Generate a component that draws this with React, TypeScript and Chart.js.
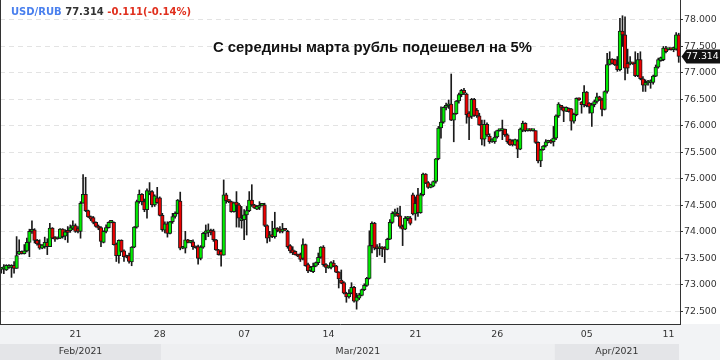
import React, { useEffect, useRef } from "react";
import { Chart, registerables } from "chart.js";

Chart.register(...registerables);

const OPEN = [
  73.29, 73.30, 73.28, 73.33, 73.33, 73.37, 73.31, 73.58, 73.63, 73.59,
  73.64, 73.80, 74.01, 74.04, 73.84, 73.77, 73.69, 73.72, 73.80, 73.72,
  74.07, 73.90, 73.87, 73.88, 74.05, 73.92, 74.02, 74.02, 74.07, 74.12,
  74.06, 74.01, 74.54, 74.71, 74.40, 74.29, 74.27, 74.18, 74.10, 74.08,
  73.80, 74.01, 74.08, 74.18, 74.18, 73.77, 73.55, 73.84, 73.64, 73.55,
  73.55, 73.43, 73.71, 74.09, 74.57, 74.71, 74.57, 74.42, 74.73, 74.76,
  74.51, 74.64, 74.64, 74.31, 74.03, 74.15, 73.97, 74.19, 74.29, 74.35,
  74.58, 73.69, 73.69, 73.85, 73.80, 73.81, 73.72, 73.72, 73.50, 73.71,
  73.97, 73.99, 74.02, 74.02, 73.85, 73.66, 73.63, 73.56, 74.70, 74.60,
  74.57, 74.38, 74.56, 74.51, 74.21, 74.23, 74.32, 74.40, 74.60, 74.51,
  74.43, 74.46, 74.50, 74.51, 74.12, 73.90, 73.93, 73.91, 74.07, 74.05,
  74.01, 74.04, 74.01, 73.74, 73.66, 73.63, 73.57, 73.57, 73.50, 73.76,
  73.38, 73.27, 73.25, 73.35, 73.42, 73.52, 73.71, 73.38, 73.32, 73.33,
  73.41, 73.36, 73.24, 73.09, 73.04, 72.84, 72.77, 72.84, 72.95, 72.69,
  72.75, 72.80, 72.91, 72.99, 73.12, 73.74, 74.16, 73.69, 73.68, 73.69,
  73.69, 73.67, 73.86, 74.18, 74.34, 74.35, 74.30, 74.10, 74.05, 74.25,
  74.26, 74.70, 74.34, 74.70, 74.36, 74.70, 75.09, 74.93, 74.84, 74.86,
  74.95, 75.38, 75.96, 76.07, 76.35, 76.38, 76.41, 76.11, 76.23, 76.47,
  76.59, 76.67, 76.60, 76.24, 76.18, 76.50, 76.30, 76.19, 76.03, 75.75,
  76.03, 75.81, 75.71, 75.70, 75.79, 75.91, 75.91, 75.94, 75.83, 75.74,
  75.72, 75.64, 75.72, 75.56, 75.92, 76.05, 75.91, 75.92, 75.91, 75.91,
  75.69, 75.34, 75.55, 75.62, 75.69, 75.72, 75.70, 75.77, 76.19, 76.37,
  76.35, 76.28, 76.33, 76.32, 76.09, 76.21, 76.52, 76.45, 76.40, 76.64,
  76.43, 76.24, 76.40, 76.46, 76.55, 76.49, 76.31, 76.65, 77.16, 77.26,
  77.25, 77.15, 77.06, 77.79, 77.72, 77.18, 77.17, 77.18, 77.18, 76.95,
  77.25, 76.89, 76.77, 76.81, 76.82, 76.82, 76.94, 77.11, 77.23, 77.25,
  77.47, 77.44, 77.45, 77.44, 77.45, 77.72,
];

const HIGH = [
  73.31, 73.38, 73.38, 73.38, 73.38, 73.44, 73.91, 73.85, 73.64, 73.76,
  73.88, 74.05, 74.21, 74.06, 73.86, 73.85, 73.76, 73.90, 73.87, 74.16,
  74.08, 73.91, 73.90, 74.06, 74.06, 74.04, 74.10, 74.13, 74.21, 74.15,
  74.10, 74.57, 75.08, 75.03, 74.41, 74.30, 74.29, 74.19, 74.13, 74.10,
  74.02, 74.13, 74.19, 74.20, 74.19, 73.79, 73.85, 73.85, 73.66, 73.56,
  73.60, 73.72, 74.10, 74.60, 74.79, 74.72, 74.62, 74.81, 74.93, 74.78,
  74.70, 74.84, 74.66, 74.35, 74.19, 74.19, 74.20, 74.35, 74.38, 74.61,
  74.75, 73.72, 74.01, 73.86, 73.82, 73.85, 73.73, 73.75, 73.74, 73.99,
  74.13, 74.15, 74.05, 74.05, 73.86, 73.67, 73.66, 74.98, 74.73, 74.61,
  74.58, 74.56, 74.76, 74.54, 74.48, 74.42, 74.48, 74.76, 74.89, 74.52,
  74.50, 74.57, 74.52, 74.54, 74.13, 74.01, 74.20, 74.37, 74.08, 74.10,
  74.16, 74.05, 74.03, 73.76, 73.72, 73.64, 73.58, 73.60, 73.87, 73.77,
  73.41, 73.35, 73.41, 73.43, 73.60, 73.72, 73.74, 73.40, 73.36, 73.44,
  73.46, 73.37, 73.25, 73.28, 73.06, 72.86, 72.91, 73.04, 72.97, 72.84,
  72.84, 72.92, 73.02, 73.14, 74.02, 74.19, 74.18, 73.76, 73.78, 73.72,
  73.72, 73.88, 74.23, 74.38, 74.43, 74.45, 74.48, 74.13, 74.29, 74.29,
  74.29, 74.73, 74.66, 74.82, 74.73, 75.11, 75.10, 74.95, 74.90, 74.96,
  75.39, 75.99, 76.36, 76.36, 76.43, 76.49, 76.98, 76.24, 76.48, 76.62,
  76.69, 76.71, 76.62, 76.27, 76.52, 76.52, 76.33, 76.24, 76.11, 76.11,
  76.06, 75.85, 75.76, 75.89, 75.92, 75.93, 76.11, 75.94, 75.85, 75.75,
  75.74, 75.75, 75.74, 75.96, 76.09, 76.06, 75.93, 75.93, 75.93, 75.91,
  75.70, 75.56, 75.63, 75.74, 75.73, 75.74, 75.99, 76.21, 76.44, 76.38,
  76.36, 76.36, 76.34, 76.33, 76.24, 76.53, 76.53, 76.46, 76.76, 76.65,
  76.44, 76.43, 76.49, 76.62, 76.56, 76.52, 76.66, 77.37, 77.40, 77.27,
  77.26, 77.31, 78.03, 78.08, 78.06, 77.45, 77.31, 77.19, 77.40, 77.37,
  77.40, 76.93, 76.87, 76.86, 76.87, 76.96, 77.15, 77.28, 77.30, 77.50,
  77.50, 77.46, 77.46, 77.49, 77.76, 77.75,
];

const LOW = [
  73.22, 73.21, 73.27, 73.31, 73.14, 73.22, 73.31, 73.57, 73.58, 73.58,
  73.62, 73.53, 73.97, 73.79, 73.75, 73.67, 73.68, 73.69, 73.57, 73.72,
  73.87, 73.82, 73.86, 73.87, 73.88, 73.85, 73.80, 73.99, 74.04, 73.99,
  73.98, 73.88, 74.54, 74.38, 74.27, 74.21, 74.15, 74.09, 74.04, 73.72,
  73.79, 73.98, 74.07, 74.17, 73.75, 73.44, 73.41, 73.62, 73.44, 73.51,
  73.41, 73.36, 73.70, 74.07, 74.54, 74.51, 74.38, 74.26, 74.70, 74.47,
  74.48, 74.54, 74.30, 74.01, 73.98, 73.90, 73.96, 74.16, 74.26, 74.34,
  73.66, 73.68, 73.60, 73.79, 73.79, 73.67, 73.69, 73.39, 73.47, 73.69,
  73.85, 73.91, 73.94, 73.82, 73.65, 73.56, 73.35, 73.56, 74.54, 74.55,
  74.37, 74.37, 74.09, 74.09, 74.07, 73.85, 73.94, 74.38, 74.48, 74.44,
  74.42, 74.42, 74.49, 74.10, 73.79, 73.82, 73.89, 73.88, 74.00, 73.98,
  73.98, 74.02, 73.69, 73.60, 73.57, 73.56, 73.53, 73.44, 73.47, 73.35,
  73.23, 73.25, 73.23, 73.34, 73.38, 73.50, 73.35, 73.23, 73.31, 73.30,
  73.34, 73.23, 72.94, 73.02, 72.83, 72.67, 72.75, 72.83, 72.67, 72.54,
  72.72, 72.79, 72.89, 72.97, 73.11, 73.60, 73.66, 73.53, 73.56, 73.53,
  73.42, 73.66, 73.85, 74.16, 74.29, 74.29, 74.07, 73.74, 74.04, 74.21,
  74.13, 74.32, 74.22, 74.29, 74.35, 74.68, 74.91, 74.82, 74.83, 74.85,
  74.92, 75.36, 75.77, 76.05, 76.30, 76.33, 76.10, 75.70, 76.22, 76.43,
  76.55, 76.59, 76.05, 75.74, 76.14, 76.18, 76.16, 76.01, 75.64, 75.62,
  75.80, 75.67, 75.69, 75.67, 75.77, 75.90, 75.74, 75.80, 75.67, 75.63,
  75.62, 75.63, 75.40, 75.55, 75.89, 75.89, 75.90, 75.90, 75.90, 75.67,
  75.30, 75.23, 75.54, 75.60, 75.68, 75.67, 75.62, 75.74, 76.16, 76.30,
  76.08, 76.27, 76.26, 75.92, 76.05, 76.19, 76.48, 76.24, 76.36, 76.36,
  76.24, 75.99, 76.36, 76.43, 76.48, 76.19, 76.30, 76.62, 77.15, 77.17,
  77.14, 77.03, 77.04, 77.50, 76.87, 76.99, 77.15, 77.16, 76.93, 76.93,
  76.87, 76.65, 76.65, 76.77, 76.71, 76.79, 76.93, 77.09, 77.22, 77.23,
  77.38, 77.43, 77.43, 77.40, 77.43, 77.20,
];

const CLOSE = [
  73.30, 73.31, 73.37, 73.37, 73.36, 73.31, 73.55, 73.63, 73.59, 73.64,
  73.80, 74.01, 74.04, 73.84, 73.77, 73.69, 73.75, 73.80, 73.72, 74.07,
  73.88, 73.86, 73.89, 74.05, 73.91, 74.00, 73.99, 74.08, 74.12, 74.01,
  74.01, 74.54, 74.71, 74.40, 74.28, 74.24, 74.18, 74.10, 74.07, 73.82,
  74.01, 74.08, 74.18, 74.19, 73.76, 73.55, 73.84, 73.63, 73.53, 73.52,
  73.44, 73.71, 74.09, 74.57, 74.71, 74.57, 74.42, 74.78, 74.76, 74.51,
  74.68, 74.55, 74.31, 74.04, 74.15, 73.97, 74.19, 74.29, 74.35, 74.60,
  73.69, 73.70, 73.85, 73.80, 73.81, 73.72, 73.70, 73.50, 73.71, 73.97,
  74.02, 74.04, 73.99, 73.85, 73.66, 73.57, 73.56, 74.70, 74.59, 74.57,
  74.38, 74.55, 74.50, 74.26, 74.25, 74.32, 74.40, 74.60, 74.51, 74.45,
  74.48, 74.50, 74.51, 74.12, 73.88, 73.93, 73.91, 74.07, 74.03, 74.01,
  74.05, 74.03, 73.72, 73.64, 73.60, 73.57, 73.54, 73.48, 73.76, 73.36,
  73.26, 73.33, 73.35, 73.42, 73.52, 73.71, 73.38, 73.33, 73.35, 73.42,
  73.35, 73.24, 73.11, 73.03, 72.84, 72.77, 72.84, 72.95, 72.69, 72.77,
  72.81, 72.91, 72.99, 73.12, 73.74, 74.16, 73.69, 73.68, 73.69, 73.68,
  73.67, 73.86, 74.18, 74.35, 74.35, 74.30, 74.10, 74.05, 74.26, 74.27,
  74.16, 74.34, 74.54, 74.36, 74.70, 75.09, 74.92, 74.84, 74.89, 74.95,
  75.38, 75.96, 76.07, 76.35, 76.38, 76.41, 76.11, 76.23, 76.47, 76.59,
  76.67, 76.62, 76.21, 76.16, 76.50, 76.20, 76.19, 76.02, 75.75, 76.03,
  75.83, 75.70, 75.75, 75.79, 75.91, 75.92, 75.92, 75.83, 75.70, 75.64,
  75.64, 75.74, 75.56, 75.94, 76.05, 75.91, 75.92, 75.91, 75.92, 75.69,
  75.34, 75.55, 75.62, 75.70, 75.72, 75.69, 75.77, 76.19, 76.41, 76.35,
  76.28, 76.35, 76.27, 76.09, 76.22, 76.52, 76.49, 76.40, 76.64, 76.38,
  76.36, 76.40, 76.46, 76.55, 76.49, 76.31, 76.65, 77.16, 77.26, 77.18,
  77.15, 77.06, 77.79, 77.72, 77.09, 77.09, 77.18, 77.17, 76.95, 77.25,
  76.89, 76.77, 76.82, 76.84, 76.85, 76.94, 77.11, 77.25, 77.29, 77.47,
  77.40, 77.45, 77.44, 77.45, 77.72, 77.314,
];

const TICK_INDEX = [29, 62, 95, 128, 162, 194, 229, 261];
const TICK_LABELS = ["21", "28", "07", "14", "21", "26", "05", "11"];
const MONTH_START = [0, 63, 217];
const MONTH_LABELS = ["Feb/2021", "Mar/2021", "Apr/2021"];
const Y_TICKS = [72.5, 73, 73.5, 74, 74.5, 75, 75.5, 76, 76.5, 77, 77.5, 78];
const Y_MIN = 72.26;
const Y_MAX = 78.377;
const SYMBOL = "USD/RUB";
const LAST_PRICE = 77.314;
const CHANGE_TEXT = "-0.111(-0.14%)";
const TITLE = "С середины марта рубль подешевел на 5%";

const FONT = "'DejaVu Sans', sans-serif";
const AXIS_FONT_SIZE = 9.4;
const GRID_COLOR = "#e3e3e3";
const AXIS_COLOR = "#333333";
const UP = "#00ee00";
const DOWN = "#ee0000";
const OUTLINE = "#1a1a1a";

const zeroPadding = (s: any) => {
  s.paddingTop = 0;
  s.paddingBottom = 0;
  s.paddingLeft = 0;
  s.paddingRight = 0;
};

const decor = {
  id: "decor",
  beforeDraw(chart: any) {
    const { ctx, chartArea, width, height } = chart;
    const xs = chart.scales.x;
    const n = OPEN.length;
    ctx.save();
    ctx.fillStyle = "#ffffff";
    ctx.fillRect(0, 0, width, height);
    ctx.fillStyle = "#f2f3f5";
    ctx.fillRect(0, chartArea.bottom, width, height - chartArea.bottom);
    const half = (xs.getPixelForValue(1) - xs.getPixelForValue(0)) / 2;
    const bandTop = chartArea.bottom + 20;
    MONTH_START.forEach((s, k) => {
      const x0 = k === 0 ? chartArea.left : xs.getPixelForValue(s) - half;
      const x1 =
        k < MONTH_START.length - 1
          ? xs.getPixelForValue(MONTH_START[k + 1]) - half
          : xs.getPixelForValue(n - 1) + half - 1;
      ctx.fillStyle = k % 2 === 0 ? "#e4e5e8" : "#eeeff1";
      ctx.fillRect(x0, bandTop, x1 - x0, height - bandTop);
      ctx.fillStyle = AXIS_COLOR;
      ctx.font = `${AXIS_FONT_SIZE}px ${FONT}`;
      ctx.textAlign = "center";
      ctx.textBaseline = "middle";
      ctx.fillText(MONTH_LABELS[k], (x0 + x1) / 2, bandTop + (height - bandTop) / 2);
    });
    ctx.restore();
  },
  afterDraw(chart: any) {
    const { ctx, chartArea, width } = chart;
    const ys = chart.scales.y;
    ctx.save();
    ctx.strokeStyle = AXIS_COLOR;
    ctx.lineWidth = 1;
    ctx.beginPath();
    ctx.moveTo(chartArea.left + 0.5, chartArea.top);
    ctx.lineTo(chartArea.left + 0.5, chartArea.bottom);
    ctx.stroke();
    const y = Math.round(ys.getPixelForValue(LAST_PRICE)) + 0.5;
    const x0 = chartArea.right + 1.5;
    ctx.fillStyle = "#111111";
    ctx.beginPath();
    ctx.moveTo(x0, y);
    ctx.lineTo(x0 + 5, y - 7);
    ctx.lineTo(width, y - 7);
    ctx.lineTo(width, y + 7);
    ctx.lineTo(x0 + 5, y + 7);
    ctx.closePath();
    ctx.fill();
    ctx.fillStyle = "#ffffff";
    ctx.font = `${AXIS_FONT_SIZE}px ${FONT}`;
    ctx.textAlign = "left";
    ctx.textBaseline = "middle";
    ctx.fillText(LAST_PRICE.toFixed(3), x0 + 4.5, y);
    ctx.restore();
  },
};

export default function App() {
  const canvasRef = useRef<HTMLCanvasElement | null>(null);

  useEffect(() => {
    const canvas = canvasRef.current;
    if (!canvas) return;
    const labels = OPEN.map((_, i) => String(i));
    const bodies = OPEN.map((o, i) => [o, CLOSE[i]]);
    const wicks = LOW.map((l, i) => [l, HIGH[i]]);
    const colors = OPEN.map((o, i) => (CLOSE[i] >= o ? UP : DOWN));

    const chart = new Chart(canvas, {
      type: "bar",
      data: {
        labels,
        datasets: [
          {
            data: bodies as any,
            backgroundColor: colors,
            borderColor: OUTLINE,
            borderWidth: 1,
            borderSkipped: false,
            barThickness: 3.6,
            minBarLength: 2,
            grouped: false,
            order: 0,
          } as any,
          {
            data: wicks as any,
            backgroundColor: OUTLINE,
            borderWidth: 0,
            barThickness: 1,
            grouped: false,
            order: 1,
          } as any,
        ],
      },
      options: {
        animation: false,
        responsive: false,
        maintainAspectRatio: false,
        devicePixelRatio: 1,
        layout: { padding: 0, autoPadding: false },
        plugins: {
          legend: { display: false },
          tooltip: { enabled: false },
          title: { display: false },
        },
        scales: {
          x: {
            type: "category",
            offset: true,
            grid: {
              offset: false,
              color: (c: any) => (TICK_INDEX.includes(c.index) ? GRID_COLOR : "rgba(0,0,0,0)"),
              tickColor: (c: any) => (TICK_INDEX.includes(c.index) ? AXIS_COLOR : "rgba(0,0,0,0)"),
              tickLength: 4,
              lineWidth: 1,
            },
            border: { color: AXIS_COLOR, width: 1, dash: [5, 4] },
            ticks: {
              autoSkip: false,
              maxRotation: 0,
              minRotation: 0,
              padding: 1,
              color: AXIS_COLOR,
              font: { family: FONT, size: AXIS_FONT_SIZE },
              callback: (_v: any, i: number) => {
                const k = TICK_INDEX.indexOf(i);
                return k >= 0 ? TICK_LABELS[k] : null;
              },
            },
            afterFit: (s: any) => {
              s.height = 36;
              zeroPadding(s);
            },
          },
          y: {
            type: "linear",
            position: "right",
            min: Y_MIN,
            max: Y_MAX,
            afterBuildTicks: (s: any) => {
              s.ticks = Y_TICKS.map((v) => ({ value: v }));
            },
            grid: {
              color: GRID_COLOR,
              tickColor: AXIS_COLOR,
              tickLength: 3,
              lineWidth: 1,
            },
            border: { color: AXIS_COLOR, width: 1, dash: [5, 4] },
            ticks: {
              padding: 1,
              color: AXIS_COLOR,
              font: { family: FONT, size: AXIS_FONT_SIZE },
              callback: (v: any) => Number(v).toFixed(3),
            },
            afterFit: (s: any) => {
              s.width = 40;
              zeroPadding(s);
            },
          },
        },
      },
      plugins: [decor],
    } as any);

    return () => {
      chart.destroy();
    };
  }, []);

  return (
    <div style={{ position: "fixed", left: 0, top: 0, width: 720, height: 360, overflow: "hidden", background: "#fff" }}>
      <canvas ref={canvasRef} width={720} height={360} style={{ display: "block", width: 720, height: 360 }} />
      <div
        style={{
          position: "absolute",
          left: 11,
          top: 6.5,
          fontFamily: FONT,
          fontWeight: "bold",
          fontSize: 10,
          lineHeight: "10px",
          whiteSpace: "nowrap",
        }}
      >
        <span style={{ color: "#4a80ee" }}>{SYMBOL}</span>{" "}
        <span style={{ color: "#333333" }}>{LAST_PRICE.toFixed(3)}</span>{" "}
        <span style={{ color: "#e0301e" }}>{CHANGE_TEXT}</span>
      </div>
      <div
        style={{
          position: "absolute",
          left: 213,
          top: 40,
          fontFamily: "'Liberation Sans', Arial, sans-serif",
          fontWeight: "bold",
          fontSize: 14.85,
          lineHeight: "15px",
          color: "#111111",
          whiteSpace: "nowrap",
        }}
      >
        {TITLE}
      </div>
    </div>
  );
}
